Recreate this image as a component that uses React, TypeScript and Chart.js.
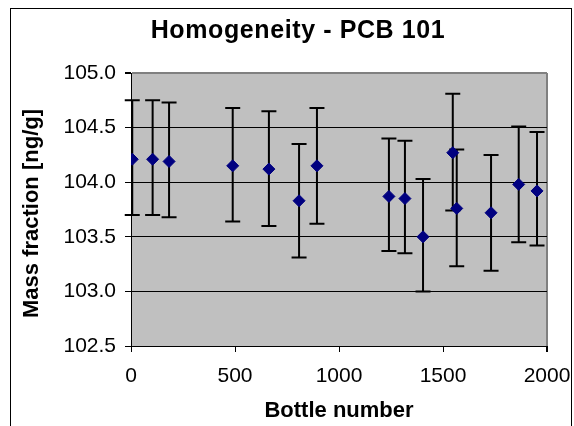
import React, { useEffect, useRef } from "react";
import { Chart, registerables } from "chart.js";

Chart.register(...registerables);

const TITLE = "Homogeneity - PCB 101";
const X_TITLE = "Bottle number";
const Y_TITLE = "Mass fraction [ng/g]";

const bottleNumbers = [6, 104, 183, 489, 663, 808, 894, 1240, 1317, 1404, 1547, 1566, 1731, 1864, 1952];
const massFraction = [104.21, 104.21, 104.19, 104.15, 104.12, 103.83, 104.15, 103.87, 103.85, 103.5, 104.27, 103.76, 103.72, 103.98, 103.92];
const upperBound = [104.75, 104.75, 104.73, 104.68, 104.65, 104.35, 104.68, 104.4, 104.38, 104.03, 104.81, 104.3, 104.25, 104.51, 104.46];
const lowerBound = [103.7, 103.7, 103.68, 103.64, 103.6, 103.31, 103.62, 103.37, 103.35, 103.0, 103.74, 103.23, 103.19, 103.45, 103.42];

const X_MIN = 0;
const X_MAX = 2000;
const X_STEP = 500;
const Y_MIN = 102.5;
const Y_MAX = 105.0;
const Y_STEP = 0.5;

const FONT = '"Liberation Sans", Arial, Helvetica, sans-serif';

const framePlugin = {
  id: "frameAndBg",
  beforeDraw(chart: any) {
    const { ctx, chartArea, width, height } = chart;
    ctx.save();
    ctx.fillStyle = "#ffffff";
    ctx.fillRect(0, 0, width, height);
    ctx.fillStyle = "#c0c0c0";
    ctx.fillRect(chartArea.left, chartArea.top, chartArea.right - chartArea.left, chartArea.bottom - chartArea.top);
    ctx.strokeStyle = "#000000";
    ctx.lineWidth = 1;
    ctx.strokeRect(10.5, 8.5, 561, 600);
    ctx.restore();
  },
};

const errorBarPlugin = {
  id: "errorBars",
  beforeDatasetsDraw(chart: any) {
    const { ctx } = chart;
    const xs = chart.scales.x;
    const ys = chart.scales.y;
    ctx.save();
    ctx.strokeStyle = "#000000";
    ctx.lineWidth = 2;
    ctx.lineCap = "butt";
    for (let i = 0; i < bottleNumbers.length; i++) {
      const px = xs.getPixelForValue(bottleNumbers[i]);
      const pt = ys.getPixelForValue(upperBound[i]);
      const pb = ys.getPixelForValue(lowerBound[i]);
      ctx.beginPath();
      ctx.moveTo(px, pt);
      ctx.lineTo(px, pb);
      ctx.moveTo(px - 7.5, pt);
      ctx.lineTo(px + 7.5, pt);
      ctx.moveTo(px - 7.5, pb);
      ctx.lineTo(px + 7.5, pb);
      ctx.stroke();
    }
    ctx.restore();
  },
};

const textPlugin = {
  id: "texts",
  afterDraw(chart: any) {
    const { ctx, chartArea } = chart;
    ctx.save();
    ctx.fillStyle = "#000000";
    ctx.textAlign = "center";
    ctx.textBaseline = "alphabetic";
    ctx.font = `bold 25px ${FONT}`;
    (ctx as any).letterSpacing = "0.6px";
    ctx.fillText(TITLE, 298, 37.5);
    (ctx as any).letterSpacing = "0px";
    ctx.font = `bold 22px ${FONT}`;
    ctx.fillText(X_TITLE, (chartArea.left + chartArea.right) / 2, 417);
    ctx.translate(37.5, (chartArea.top + chartArea.bottom) / 2 + 4);
    ctx.rotate(-Math.PI / 2);
    ctx.fillText(Y_TITLE, 0, 0);
    ctx.restore();
  },
};

export default function App() {
  const canvasRef = useRef<HTMLCanvasElement | null>(null);

  useEffect(() => {
    if (!canvasRef.current) return;
    const points = bottleNumbers.map((x, i) => ({ x, y: massFraction[i] }));
    const chart = new Chart(canvasRef.current, {
      type: "scatter",
      data: {
        datasets: [
          {
            label: "PCB 101",
            data: points,
            pointStyle: "rectRot",
            pointRadius: 6,
            pointHoverRadius: 6,
            backgroundColor: "#000080",
            borderColor: "#000080",
            borderWidth: 1,
            showLine: false,
          },
        ],
      },
      options: {
        animation: false,
        responsive: false,
        devicePixelRatio: 1,
        events: [],
        layout: { padding: { left: 0, right: 27, top: 73, bottom: 0 } },
        plugins: {
          legend: { display: false },
          title: { display: false },
          tooltip: { enabled: false },
        },
        scales: {
          x: {
            type: "linear",
            min: X_MIN,
            max: X_MAX,
            afterFit(scale: any) {
              scale.height = 80;
              scale.paddingRight = 0;
              scale.paddingLeft = 0;
            },
            ticks: {
              stepSize: X_STEP,
              color: "#000000",
              font: { family: FONT, size: 21 },
              padding: 12,
              maxRotation: 0,
              callback: (v: any) => String(v),
            },
            grid: {
              drawOnChartArea: true,
              drawTicks: true,
              tickLength: 6,
              tickColor: "#000000",
              color: (c: any) => (c.tick && c.tick.value === X_MAX ? "#808080" : "rgba(0,0,0,0)"),
              lineWidth: (c: any) => (c.tick && c.tick.value === X_MAX ? 2 : 1),
            },
            border: { display: true, color: "#000000", width: 1 },
          },
          y: {
            type: "linear",
            min: Y_MIN,
            max: Y_MAX,
            afterFit(scale: any) {
              scale.width = 131;
            },
            ticks: {
              stepSize: Y_STEP,
              color: "#000000",
              font: { family: FONT, size: 21 },
              padding: 9,
              callback: (v: any) => Number(v).toFixed(1),
            },
            grid: {
              drawOnChartArea: true,
              drawTicks: true,
              tickLength: 6,
              tickColor: "#000000",
              color: (c: any) => (c.tick && Math.abs(c.tick.value - Y_MAX) < 1e-6 ? "#808080" : "#000000"),
              lineWidth: (c: any) => (c.tick && Math.abs(c.tick.value - Y_MAX) < 1e-6 ? 2 : 1),
            },
            border: { display: true, color: "#000000", width: 1 },
          },
        },
      },
      plugins: [framePlugin, errorBarPlugin, textPlugin],
    });
    return () => chart.destroy();
  }, []);

  return (
    <div style={{ position: "fixed", left: 0, top: 0, width: 574, height: 426, background: "#ffffff" }}>
      <canvas ref={canvasRef} width={574} height={426} style={{ display: "block" }} />
    </div>
  );
}
